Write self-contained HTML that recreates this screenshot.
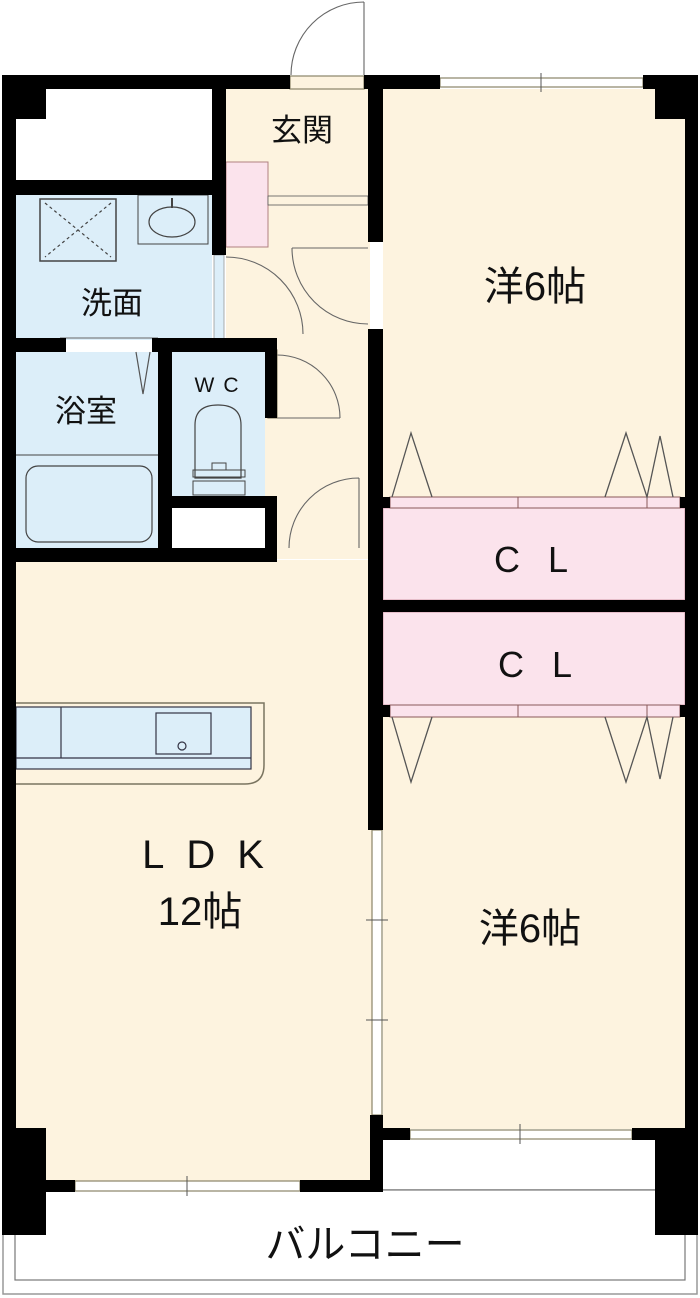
<!DOCTYPE html>
<html><head><meta charset="utf-8"><style>
html,body{margin:0;padding:0;background:#fff;width:700px;height:1298px;overflow:hidden}
text{font-family:"Liberation Sans","Noto Sans CJK JP",sans-serif;fill:#111}
</style></head><body>
<svg width="700" height="1298" viewBox="0 0 700 1298" xmlns="http://www.w3.org/2000/svg">
<rect x="3" y="1190" width="694" height="104" fill="#fff" stroke="#999" stroke-width="1.5"/>
<rect x="15" y="1190" width="670" height="90" fill="#fff" stroke="#777" stroke-width="1.2"/>
<rect x="226" y="89" width="144" height="470" fill="#fdf3df"/>
<rect x="16" y="560" width="356" height="622" fill="#fdf3df"/>
<rect x="383" y="89" width="302" height="410" fill="#fdf3df"/>
<rect x="383" y="717" width="302" height="412" fill="#fdf3df"/>
<rect x="383" y="508" width="302" height="92" fill="#fbe3ec" stroke="#d09aa8" stroke-width="1"/>
<rect x="383" y="612" width="302" height="93" fill="#fbe3ec" stroke="#d09aa8" stroke-width="1"/>
<rect x="390" y="497" width="290" height="11" fill="#fbe3ec" stroke="#8a5a5a" stroke-width="1"/>
<rect x="390" y="705" width="290" height="12" fill="#fbe3ec" stroke="#8a5a5a" stroke-width="1"/>
<line x1="518" y1="497" x2="518" y2="508" stroke="#8a5a5a"/><line x1="647" y1="497" x2="647" y2="508" stroke="#8a5a5a"/>
<line x1="518" y1="705" x2="518" y2="717" stroke="#8a5a5a"/><line x1="647" y1="705" x2="647" y2="717" stroke="#8a5a5a"/>
<g fill="none" stroke="#555" stroke-width="1.3">
<polyline points="392,497 411,433 432,497"/><polyline points="605,497 626,433 647,497 660,436 673,497"/>
<polyline points="392,717 411,782 432,717"/><polyline points="605,717 626,782 647,717 660,779 673,717"/>
</g>
<rect x="16" y="195" width="196" height="145" fill="#dceef9"/>
<rect x="214" y="255" width="10" height="85" fill="#dceef9" stroke="#999" stroke-width="0.8"/>
<rect x="16" y="352" width="142" height="196" fill="#dceef9"/>
<rect x="172" y="352" width="93" height="144" fill="#dceef9"/>
<rect x="16" y="89" width="196" height="91" fill="#fff"/>
<rect x="172" y="508" width="93" height="40" fill="#fff"/>
<rect x="40" y="199" width="76" height="62" fill="none" stroke="#444" stroke-width="1.5"/>
<g stroke="#444" stroke-width="1.2" stroke-dasharray="3,3"><line x1="45" y1="203" x2="111" y2="257"/><line x1="111" y1="203" x2="45" y2="257"/></g>
<rect x="138" y="195" width="70" height="49" fill="none" stroke="#444" stroke-width="1"/>
<ellipse cx="172" cy="222" rx="23" ry="15" fill="none" stroke="#444" stroke-width="1.2"/>
<line x1="172" y1="198" x2="172" y2="208" stroke="#444" stroke-width="2"/>
<line x1="16" y1="455" x2="158" y2="455" stroke="#444"/>
<rect x="26" y="466" width="126" height="76" rx="12" fill="none" stroke="#444" stroke-width="1.2"/>
<polyline points="136,352 143,394 150,352" fill="none" stroke="#555" stroke-width="1.2"/>
<path d="M195,478 L195,425 Q195,405 218,405 Q241,405 241,425 L241,478 Z" fill="none" stroke="#444" stroke-width="1.2"/>
<rect x="193" y="470" width="52" height="7" fill="none" stroke="#444"/>
<rect x="193" y="481" width="52" height="14" fill="none" stroke="#444"/>
<rect x="212" y="463" width="14" height="7" fill="none" stroke="#444"/>
<rect x="226" y="162" width="42" height="85" fill="#fbe3ec" stroke="#b08080" stroke-width="1"/>
<rect x="268" y="196" width="100" height="9" fill="#fdf3df" stroke="#555" stroke-width="0.8"/>
<g fill="none" stroke="#666" stroke-width="1.1">
<path d="M364,2 L364,75 M364,2 A73,73 0 0 0 291,75"/>
<path d="M226,257 A77,77 0 0 1 303,334 L303,334"/>
<path d="M292,248 L368,248 M292,248 A76,76 0 0 0 368,324"/>
<path d="M277,418 L340,418 M340,418 A63,63 0 0 0 277,355"/>
<path d="M359,478 L359,548 M359,478 A70,70 0 0 0 289,548"/>
<path d="M158,338 L60,338"/>
</g>
<path d="M16,703 L252,703 L264,703 L264,765 Q264,784 245,784 L16,784" fill="#fdf3df" stroke="#7a7460" stroke-width="1.5"/>
<rect x="16" y="707" width="235" height="62" fill="#dceef9" stroke="#334" stroke-width="1.2"/>
<line x1="16" y1="758" x2="251" y2="758" stroke="#334" stroke-width="1.2"/>
<line x1="61" y1="707" x2="61" y2="758" stroke="#334" stroke-width="1.2"/>
<rect x="156" y="713" width="55" height="41" fill="none" stroke="#334" stroke-width="1.2"/>
<circle cx="182" cy="746" r="4" fill="none" stroke="#334" stroke-width="1.2"/>
<g fill="#fff" stroke="#8a8468" stroke-width="1.2">
<rect x="290" y="76" width="74" height="13" fill="#fdf3df"/>
<rect x="440" y="78" width="203" height="9"/>
<rect x="410" y="1130" width="222" height="9"/>
<rect x="75" y="1181" width="225" height="10"/>
<rect x="372" y="830" width="10" height="285"/>
<rect x="268" y="350" width="9" height="68" fill="#dceef9"/>
</g>
<g stroke="#555" stroke-width="1"><line x1="541" y1="73" x2="541" y2="92"/><line x1="520" y1="1124" x2="520" y2="1144"/><line x1="187" y1="1176" x2="187" y2="1196"/><line x1="366" y1="920" x2="388" y2="920"/><line x1="366" y1="1020" x2="388" y2="1020"/></g>
<g fill="#000">
<rect x="2" y="75" width="288" height="14"/>
<rect x="364" y="75" width="76" height="14"/>
<rect x="643" y="75" width="55" height="14"/>
<rect x="2" y="75" width="14" height="1117"/>
<rect x="16" y="89" width="30" height="30"/>
<rect x="655" y="89" width="30" height="30"/>
<rect x="685" y="75" width="13" height="1160"/>
<rect x="212" y="75" width="14" height="180"/>
<rect x="16" y="180" width="210" height="15"/>
<rect x="368" y="75" width="15" height="167"/>
<rect x="368" y="329" width="15" height="501"/>
<rect x="370" y="1115" width="13" height="77"/>
<rect x="16" y="338" width="50" height="14"/>
<rect x="152" y="338" width="125" height="14"/>
<rect x="158" y="338" width="14" height="222"/>
<rect x="265" y="338" width="12" height="80"/>
<rect x="265" y="496" width="12" height="64"/>
<rect x="172" y="496" width="93" height="12"/>
<rect x="16" y="548" width="261" height="14"/>
<rect x="383" y="497" width="7" height="11"/><rect x="680" y="497" width="5" height="11"/>
<rect x="383" y="600" width="302" height="12"/>
<rect x="383" y="705" width="7" height="12"/><rect x="680" y="705" width="5" height="12"/>
<rect x="383" y="1128" width="27" height="12"/>
<rect x="632" y="1128" width="53" height="12"/>
<rect x="655" y="1128" width="43" height="107"/>
<rect x="2" y="1128" width="44" height="107"/>
<rect x="46" y="1180" width="29" height="12"/>
<rect x="300" y="1180" width="83" height="12"/>
</g>
<text x="302" y="141" font-size="31" text-anchor="middle">玄関</text>
<text x="112" y="314" font-size="31" text-anchor="middle">洗面</text>
<text x="86" y="422" font-size="31" text-anchor="middle">浴室</text>
<text x="221" y="392" font-size="21" text-anchor="middle" letter-spacing="9">WC</text>
<text x="535" y="300" font-size="40" text-anchor="middle">洋6帖</text>
<text x="545" y="572" font-size="36" text-anchor="middle" letter-spacing="28">CL</text>
<text x="549" y="677" font-size="36" text-anchor="middle" letter-spacing="28">CL</text>
<text x="214" y="868" font-size="40" text-anchor="middle" letter-spacing="22">LDK</text>
<text x="200" y="925" font-size="40" text-anchor="middle">12帖</text>
<text x="530" y="942" font-size="40" text-anchor="middle">洋6帖</text>
<text x="365" y="1258" font-size="40" text-anchor="middle">バルコニー</text>
</svg>
</body></html>
